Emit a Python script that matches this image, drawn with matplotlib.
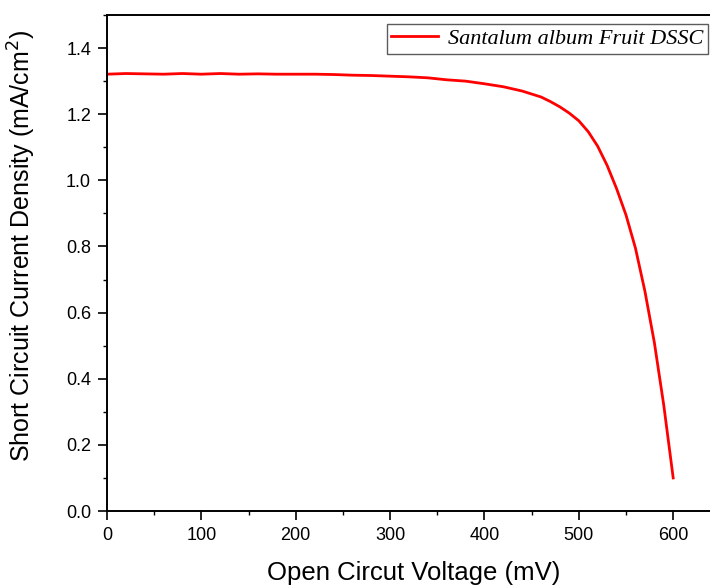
import matplotlib
matplotlib.use("Agg")
import matplotlib.pyplot as plt
from matplotlib.ticker import MultipleLocator

voltage = [0, 20, 40, 60, 80, 100, 120, 140, 160, 180, 200, 220, 240, 260, 280, 300,
           320, 340, 360, 380, 400, 420, 440, 460, 470, 480, 490, 500, 510, 520, 530,
           540, 550, 560, 570, 580, 590, 600]
current = [1.321, 1.323, 1.322, 1.321, 1.323, 1.321, 1.323, 1.321, 1.322, 1.321, 1.321, 1.321,
           1.320, 1.318, 1.317, 1.315, 1.313, 1.310, 1.304, 1.300, 1.292, 1.283, 1.270, 1.252,
           1.238, 1.222, 1.203, 1.180, 1.147, 1.103, 1.045, 0.975, 0.895, 0.795, 0.665, 0.510,
           0.320, 0.100]
series_label = "Santalum album Fruit DSSC"

plt.rcParams['font.family'] = ['Liberation Sans', 'DejaVu Sans']

fig = plt.figure(figsize=(7.1, 5.86), dpi=100)
ax = fig.add_axes([107/710, 75/586, 603/710, 496/586])

ax.plot(voltage, current, color='#ff0000', lw=2.0, label=series_label)

ax.set_xlim(0, 639)
ax.set_ylim(0, 1.5)
ax.xaxis.set_major_locator(MultipleLocator(100))
ax.xaxis.set_minor_locator(MultipleLocator(50))
ax.yaxis.set_major_locator(MultipleLocator(0.2))
ax.yaxis.set_minor_locator(MultipleLocator(0.1))
ax.yaxis.set_major_formatter(matplotlib.ticker.FormatStrFormatter('%.1f'))

for s in ['left', 'bottom', 'top']:
    ax.spines[s].set_linewidth(1.4)
ax.spines['right'].set_visible(False)
ax.tick_params(which='major', direction='out', length=6.5, width=1.2, labelsize=13, pad=5)
ax.tick_params(which='minor', direction='out', length=3.2, width=1.0)

ax.set_xlabel('Open Circut Voltage (mV)', fontsize=18.5)
ax.set_ylabel('Short Circuit Current Density (mA/cm$^2$)', fontsize=18)
ax.xaxis.set_label_coords(0.509, -0.1)
ax.yaxis.set_label_coords(-0.114, 0.534)

leg = ax.legend(loc='upper right', bbox_to_anchor=(1.0, 0.986), frameon=True, fancybox=False,
                prop={'family': 'Liberation Serif', 'style': 'italic', 'size': 16},
                borderpad=0.2, handlelength=2.1, handletextpad=0.45, borderaxespad=0.1)
leg.get_frame().set_edgecolor('#333333')
leg.get_frame().set_linewidth(1.0)

fig.savefig('out.png', dpi=100)
